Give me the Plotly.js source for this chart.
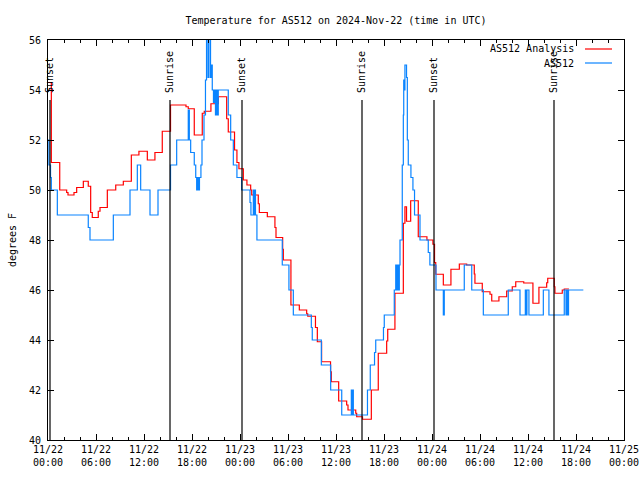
<!DOCTYPE html>
<html><head><meta charset="utf-8">
<script src="https://cdn.plot.ly/plotly-3.0.1.min.js"></script>
<style>body{margin:0;background:#fff}#chart{width:640px;height:480px}</style>
</head><body><div id="chart"></div>
<script>
const redTime = ['2024-11-22 00:00','2024-11-22 00:25','2024-11-22 01:28','2024-11-22 02:20','2024-11-22 02:30','2024-11-22 03:15','2024-11-22 03:35','2024-11-22 04:25','2024-11-22 05:02','2024-11-22 05:20','2024-11-22 05:32','2024-11-22 06:17','2024-11-22 06:30','2024-11-22 07:25','2024-11-22 08:28','2024-11-22 09:25','2024-11-22 10:25','2024-11-22 11:22','2024-11-22 12:25','2024-11-22 13:22','2024-11-22 14:17','2024-11-22 15:19','2024-11-22 17:15','2024-11-22 17:32','2024-11-22 18:17','2024-11-22 19:17','2024-11-22 19:32','2024-11-22 20:22','2024-11-22 21:17','2024-11-22 22:20','2024-11-22 22:32','2024-11-22 23:19','2024-11-22 23:37','2024-11-22 23:52','2024-11-23 00:25','2024-11-23 00:52','2024-11-23 01:20','2024-11-23 01:28','2024-11-23 02:17','2024-11-23 02:25','2024-11-23 03:25','2024-11-23 04:22','2024-11-23 04:30','2024-11-23 05:20','2024-11-23 05:25','2024-11-23 06:22','2024-11-23 07:25','2024-11-23 08:20','2024-11-23 08:28','2024-11-23 09:26','2024-11-23 09:40','2024-11-23 10:12','2024-11-23 11:19','2024-11-23 11:25','2024-11-23 12:20','2024-11-23 13:20','2024-11-23 13:30','2024-11-23 14:28','2024-11-23 14:35','2024-11-23 15:19','2024-11-23 16:25','2024-11-23 17:17','2024-11-23 18:20','2024-11-23 18:28','2024-11-23 19:22','2024-11-23 20:25','2024-11-23 20:37','2024-11-23 20:49','2024-11-23 21:20','2024-11-23 22:17','2024-11-23 23:22','2024-11-24 00:07','2024-11-24 00:19','2024-11-24 00:28','2024-11-24 01:25','2024-11-24 02:22','2024-11-24 03:25','2024-11-24 04:20','2024-11-24 05:17','2024-11-24 05:22','2024-11-24 06:17','2024-11-24 07:15','2024-11-24 07:28','2024-11-24 08:22','2024-11-24 09:20','2024-11-24 10:02','2024-11-24 10:28','2024-11-24 11:28','2024-11-24 12:37','2024-11-24 13:22','2024-11-24 14:20','2024-11-24 14:28','2024-11-24 15:17','2024-11-24 15:22','2024-11-24 16:17','2024-11-24 16:32','2024-11-24 17:07'];
const redTemp = [54.3,51.1,50.0,49.9,49.8,49.9,50.1,50.35,50.15,49.1,48.9,49.15,49.3,50.0,50.2,50.35,51.4,51.55,51.2,51.5,52.35,53.4,53.33,53.25,52.2,53.07,53.15,53.45,53.73,52.85,52.32,51.6,51.1,50.85,50.4,50.2,50.0,49.8,49.45,49.1,48.93,48.5,48.1,47.63,47.2,45.4,45.2,45.05,44.95,44.5,43.93,43.13,42.73,42.33,41.56,41.4,41.2,41.07,40.93,40.83,42.0,43.47,43.96,44.43,45.87,48.67,49.33,48.75,49.57,48.13,48.0,47.83,47.1,46.63,46.2,46.83,47.04,47.0,46.64,46.27,45.93,45.83,45.56,45.73,45.96,46.13,46.33,46.28,45.47,46.11,46.29,46.47,46.13,45.87,46.0,46.04,46.04];

const blueTime = ['2024-11-22 00:00','2024-11-22 00:07','2024-11-22 00:19','2024-11-22 00:25','2024-11-22 01:10','2024-11-22 05:02','2024-11-22 05:15','2024-11-22 08:10','2024-11-22 10:15','2024-11-22 11:10','2024-11-22 11:35','2024-11-22 12:45','2024-11-22 13:45','2024-11-22 15:19','2024-11-22 16:05','2024-11-22 17:32','2024-11-22 17:40','2024-11-22 17:50','2024-11-22 18:17','2024-11-22 18:28','2024-11-22 18:35','2024-11-22 18:43','2024-11-22 18:47','2024-11-22 18:56','2024-11-22 19:07','2024-11-22 19:15','2024-11-22 19:30','2024-11-22 19:41','2024-11-22 19:49','2024-11-22 20:00','2024-11-22 20:07','2024-11-22 20:19','2024-11-22 20:26','2024-11-22 20:32','2024-11-22 20:41','2024-11-22 20:49','2024-11-22 20:56','2024-11-22 21:02','2024-11-22 21:10','2024-11-22 21:17','2024-11-22 22:32','2024-11-22 22:50','2024-11-22 23:10','2024-11-22 23:37','2024-11-23 00:12','2024-11-23 01:15','2024-11-23 01:22','2024-11-23 01:40','2024-11-23 01:45','2024-11-23 01:50','2024-11-23 01:56','2024-11-23 02:07','2024-11-23 05:17','2024-11-23 06:07','2024-11-23 06:40','2024-11-23 08:55','2024-11-23 09:02','2024-11-23 10:10','2024-11-23 11:20','2024-11-23 12:43','2024-11-23 13:55','2024-11-23 14:00','2024-11-23 14:05','2024-11-23 14:10','2024-11-23 15:56','2024-11-23 16:17','2024-11-23 16:49','2024-11-23 16:58','2024-11-23 17:56','2024-11-23 18:02','2024-11-23 19:17','2024-11-23 19:28','2024-11-23 19:37','2024-11-23 19:43','2024-11-23 19:47','2024-11-23 19:55','2024-11-23 20:00','2024-11-23 20:17','2024-11-23 20:25','2024-11-23 20:28','2024-11-23 20:34','2024-11-23 20:37','2024-11-23 20:49','2024-11-23 20:55','2024-11-23 21:02','2024-11-23 21:22','2024-11-23 21:37','2024-11-23 21:49','2024-11-23 22:30','2024-11-23 23:32','2024-11-23 23:44','2024-11-24 00:30','2024-11-24 01:25','2024-11-24 01:32','2024-11-24 04:02','2024-11-24 04:58','2024-11-24 06:25','2024-11-24 09:32','2024-11-24 11:00','2024-11-24 11:40','2024-11-24 11:45','2024-11-24 11:52','2024-11-24 12:07','2024-11-24 13:55','2024-11-24 14:37','2024-11-24 16:32','2024-11-24 16:45','2024-11-24 16:52','2024-11-24 16:58','2024-11-24 17:04','2024-11-24 18:55'];
const blueTemp = [52.0,51.0,50.5,50.0,49.0,48.5,48.0,49.0,50.0,51.0,50.0,49.0,50.0,51.0,52.0,53.2,52.0,51.5,51.0,50.5,50.0,50.5,50.0,50.5,51.0,52.0,53.0,54.4,56.2,54.5,56.2,54.5,55.0,54.0,53.5,54.0,53.0,54.0,53.0,54.0,53.0,52.0,51.0,50.5,50.0,49.5,49.0,50.0,49.0,50.0,49.0,48.0,47.0,46.0,45.0,44.5,44.0,43.0,42.0,41.0,42.0,41.0,42.0,41.0,42.0,43.0,43.5,44.0,44.5,45.0,46.0,47.0,46.0,47.0,46.0,47.0,48.0,51.0,53.0,54.4,54.0,55.0,54.5,52.0,51.0,50.5,50.0,49.0,48.0,47.5,47.0,46.0,45.0,46.0,47.0,46.0,45.0,46.0,45.0,46.0,45.0,46.0,45.0,46.0,45.0,46.0,45.0,46.0,45.0,46.0,46.0];

const sunTime = ['2024-11-22 00:15','2024-11-22 15:15','2024-11-23 00:15','2024-11-23 15:15','2024-11-24 00:15','2024-11-24 15:15'];
const sunLabel = ['Sunset','Sunrise','Sunset','Sunrise','Sunset','Sunrise'];
const seriesNames = ['AS512 Analysis','AS512'];
const seriesColors = ['#ff0000','#0a84ff'];

const FONT = {family:'DejaVu Sans Mono, monospace', size:10, color:'#000'};
const L = 48, R = 624, T = 40, B = 440;
const px2x = p => (p - L) / (R - L);
const px2y = p => (B - p) / (B - T);

const traces = [
  {x: redTime, y: redTemp, type:'scatter', mode:'lines', line:{shape:'hv', color:seriesColors[0], width:1.2}, name:seriesNames[0], showlegend:false},
  {x: blueTime, y: blueTemp, type:'scatter', mode:'lines', line:{shape:'hv', color:seriesColors[1], width:1.2}, name:seriesNames[1], showlegend:false}
];

const shapes = [];
const annotations = [];
sunTime.forEach((t, i) => {
  shapes.push({type:'line', xref:'x', yref:'paper', x0:t, x1:t, y0:0, y1:px2y(100), line:{color:'#000', width:1.2}, layer:'above'});
  annotations.push({x:t, xref:'x', y:px2y(95), yref:'paper', text:sunLabel[i], textangle:-90, showarrow:false, xanchor:'center', yanchor:'bottom', font:FONT});
});
const legendRows = [49, 63];
seriesNames.forEach((n, i) => {
  annotations.push({x:px2x(576), xref:'paper', y:px2y(legendRows[i]), yref:'paper', text:n, showarrow:false, xanchor:'right', yanchor:'middle', font:FONT});
  shapes.push({type:'line', xref:'paper', yref:'paper', x0:px2x(585), x1:px2x(612), y0:px2y(legendRows[i]), y1:px2y(legendRows[i]), line:{color:seriesColors[i], width:1.2}});
});

const axisCommon = {showline:true, linecolor:'#000', linewidth:1, mirror:'allticks', ticks:'inside', tickcolor:'#000', tickwidth:1, showgrid:false, zeroline:false, tickfont:FONT, automargin:false, fixedrange:true};

const layout = {
  width:640, height:480,
  margin:{l:L, r:640-R, t:T, b:480-B, pad:0},
  paper_bgcolor:'#fff', plot_bgcolor:'#fff',
  showlegend:false,
  title:{text:'Temperature for AS512 on 2024-Nov-22 (time in UTC)', font:FONT, x:336/640, xanchor:'center', y:1-20/480, yanchor:'middle'},
  xaxis: Object.assign({}, axisCommon, {type:'date', range:['2024-11-22 00:00','2024-11-25 00:00'], tick0:'2024-11-22 00:00', dtick:6*3600*1000, tickformat:'%m/%d<br>%H:%M', ticklen:6,
    minor:{dtick:2*3600*1000, ticks:'inside', ticklen:3, tickcolor:'#000', showgrid:false}}),
  yaxis: Object.assign({}, axisCommon, {range:[40,56], dtick:2, tick0:40, ticklen:6, ticklabelstandoff:4,
    title:{text:'degrees F', font:FONT, standoff:10}}),
  shapes: shapes,
  annotations: annotations
};

Plotly.newPlot('chart', traces, layout, {staticPlot:true, displayModeBar:false});
</script>
</body></html>
